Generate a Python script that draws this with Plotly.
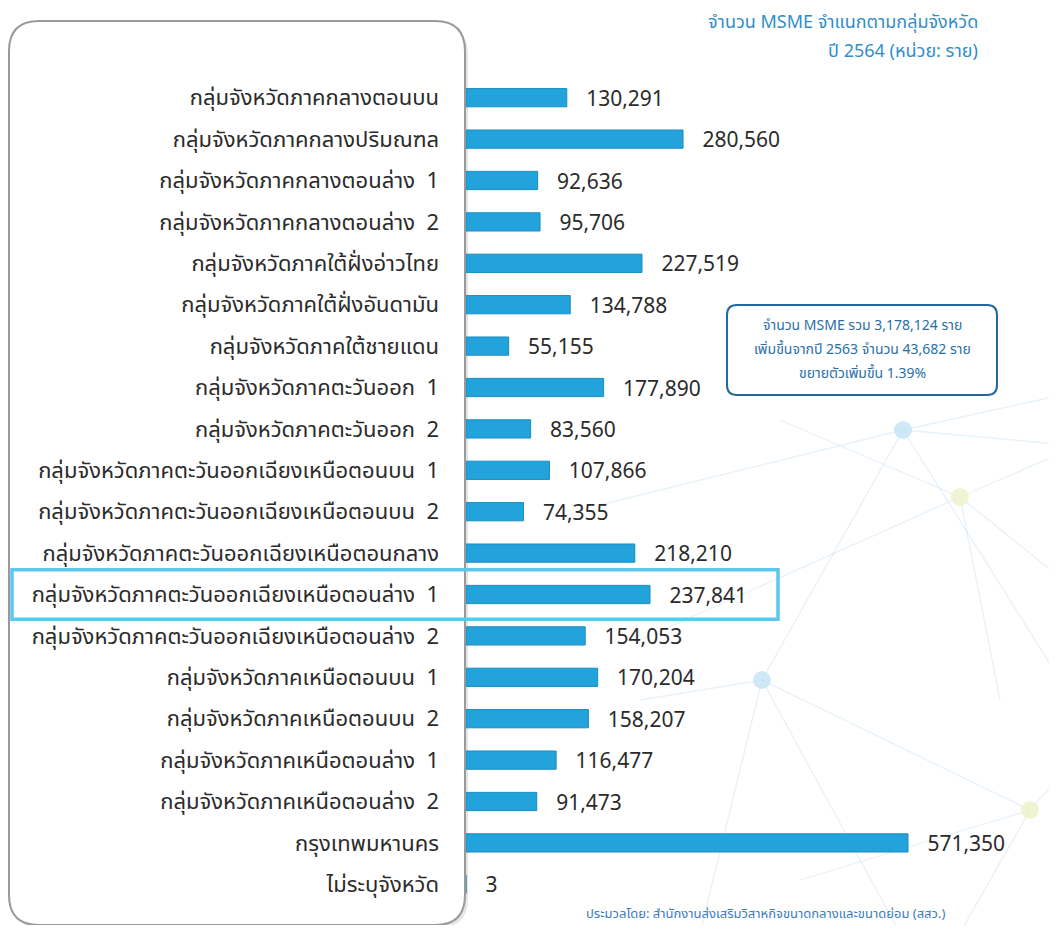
import plotly.graph_objects as go

GROUPS = [
    "กลุ่มจังหวัดภาคกลางตอนบน",
    "กลุ่มจังหวัดภาคกลางปริมณฑล",
    "กลุ่มจังหวัดภาคกลางตอนล่าง  1",
    "กลุ่มจังหวัดภาคกลางตอนล่าง  2",
    "กลุ่มจังหวัดภาคใต้ฝั่งอ่าวไทย",
    "กลุ่มจังหวัดภาคใต้ฝั่งอันดามัน",
    "กลุ่มจังหวัดภาคใต้ชายแดน",
    "กลุ่มจังหวัดภาคตะวันออก  1",
    "กลุ่มจังหวัดภาคตะวันออก  2",
    "กลุ่มจังหวัดภาคตะวันออกเฉียงเหนือตอนบน  1",
    "กลุ่มจังหวัดภาคตะวันออกเฉียงเหนือตอนบน  2",
    "กลุ่มจังหวัดภาคตะวันออกเฉียงเหนือตอนกลาง",
    "กลุ่มจังหวัดภาคตะวันออกเฉียงเหนือตอนล่าง  1",
    "กลุ่มจังหวัดภาคตะวันออกเฉียงเหนือตอนล่าง  2",
    "กลุ่มจังหวัดภาคเหนือตอนบน  1",
    "กลุ่มจังหวัดภาคเหนือตอนบน  2",
    "กลุ่มจังหวัดภาคเหนือตอนล่าง  1",
    "กลุ่มจังหวัดภาคเหนือตอนล่าง  2",
    "กรุงเทพมหานคร",
    "ไม่ระบุจังหวัด",
]
MSME_2564 = [
    130291, 280560, 92636, 95706, 227519, 134788, 55155, 177890, 83560, 107866,
    74355, 218210, 237841, 154053, 170204, 158207, 116477, 91473, 571350, 3,
]
HIGHLIGHT = "กลุ่มจังหวัดภาคตะวันออกเฉียงเหนือตอนล่าง  1"

TITLE_LINES = ["จำนวน MSME จำแนกตามกลุ่มจังหวัด", "ปี 2564 (หน่วย: ราย)"]
INFO_LINES = [
    "จำนวน MSME รวม 3,178,124 ราย",
    "เพิ่มขึ้นจากปี 2563 จำนวน 43,682 ราย",
    "ขยายตัวเพิ่มขึ้น 1.39%",
]
SOURCE = "ประมวลโดย: สำนักงานส่งเสริมวิสาหกิจขนาดกลางและขนาดย่อม (สสว.)"

_FONT = "'Noto Sans Thai', 'Noto Sans', 'DejaVu Sans', sans-serif"
_BAR = "#22a3dc"
_BLUE_TXT = "#2f8fca"

OFF = 8
FIG_W, FIG_H = 1041, 917
M_L, M_R, M_T, M_B = 458, 40, 69, 20
PW, PH = FIG_W - M_L - M_R, FIG_H - M_T - M_B


def px_x(p):
    return (p - OFF - M_L) / PW


def px_y(p):
    return 1 - (p - OFF - M_T) / PH


def rounded_rect(x0, y0, x1, y1, r):
    # pixel box -> svg path in paper units
    pts = [
        f"M {px_x(x0 + r)},{px_y(y0)}",
        f"L {px_x(x1 - r)},{px_y(y0)}",
        f"Q {px_x(x1)},{px_y(y0)} {px_x(x1)},{px_y(y0 + r)}",
        f"L {px_x(x1)},{px_y(y1 - r)}",
        f"Q {px_x(x1)},{px_y(y1)} {px_x(x1 - r)},{px_y(y1)}",
        f"L {px_x(x0 + r)},{px_y(y1)}",
        f"Q {px_x(x0)},{px_y(y1)} {px_x(x0)},{px_y(y1 - r)}",
        f"L {px_x(x0)},{px_y(y0 + r)}",
        f"Q {px_x(x0)},{px_y(y0)} {px_x(x0 + r)},{px_y(y0)} Z",
    ]
    return " ".join(pts)


fig = go.Figure(go.Bar(
    x=MSME_2564,
    y=GROUPS,
    orientation="h",
    marker=dict(color=_BAR, line=dict(color="#1a8cc0", width=1)),
    texttemplate="\u00a0\u00a0\u00a0%{x:,}",
    textposition="outside",
    constraintext="none",
    cliponaxis=False,
    textfont=dict(size=21, color="#2b2b2b", family="'Noto Sans', sans-serif"),
    width=0.44,
))

shapes = []

# faint background network
net_lines = [
    ((903, 430), (1057, 396)), ((903, 430), (1057, 444)), ((903, 430), (762, 680)),
    ((903, 430), (1057, 675)), ((903, 430), (600, 505)), ((960, 497), (1057, 455)),
    ((960, 497), (1057, 575)), ((960, 497), (640, 640)), ((960, 497), (780, 420)),
    ((762, 680), (1030, 810)), ((762, 680), (900, 933)), ((762, 680), (640, 700)),
    ((762, 680), (700, 933)), ((1030, 810), (1057, 780)), ((1030, 810), (960, 933)),
    ((1030, 810), (800, 880)), ((960, 497), (1000, 700)),
]
for (a, b) in net_lines:
    shapes.append(dict(
        type="line", xref="paper", yref="paper", layer="below",
        x0=px_x(a[0]), y0=px_y(a[1]), x1=px_x(b[0]), y1=px_y(b[1]),
        line=dict(color="rgba(170,205,230,0.28)", width=1.3),
    ))
for (cx, cy, col) in [(903, 430, "rgba(195,228,246,0.8)"), (960, 497, "rgba(236,241,200,0.8)"),
                      (762, 680, "rgba(195,228,246,0.8)"), (1030, 810, "rgba(236,241,200,0.8)")]:
    shapes.append(dict(
        type="circle", xref="paper", yref="paper", layer="below",
        x0=px_x(cx - 9), x1=px_x(cx + 9), y0=px_y(cy - 9), y1=px_y(cy + 9),
        fillcolor=col, line=dict(width=0),
    ))

# white rounded panel behind the labels
shapes.append(dict(
    type="path", xref="paper", yref="paper", layer="below",
    path=rounded_rect(12, 25, 468, 928, 30),
    fillcolor="rgba(0,0,0,0.10)", line=dict(width=0),
))
shapes.append(dict(
    type="path", xref="paper", yref="paper", layer="below",
    path=rounded_rect(9, 21, 465, 925, 30),
    fillcolor="white", line=dict(color="#9a9a9a", width=2),
))

# info box
shapes.append(dict(
    type="path", xref="paper", yref="paper",
    path=rounded_rect(727, 305, 997, 395, 10),
    fillcolor="rgba(255,255,255,0.95)", line=dict(color="#23689a", width=2),
))

# highlighted row
hi = GROUPS.index(HIGHLIGHT)
shapes.append(dict(
    type="rect", xref="paper", yref="y",
    x0=px_x(12), x1=px_x(778), y0=hi - 0.6, y1=hi + 0.6,
    line=dict(color="#5cc8f0", width=3.5), fillcolor="rgba(0,0,0,0)",
))

annotations = [
    dict(text=TITLE_LINES[0], xref="paper", yref="paper", x=px_x(980), y=px_y(23),
         xanchor="right", yanchor="middle", showarrow=False,
         font=dict(size=18, color=_BLUE_TXT, family=_FONT)),
    dict(text=TITLE_LINES[1], xref="paper", yref="paper", x=px_x(980), y=px_y(51),
         xanchor="right", yanchor="middle", showarrow=False,
         font=dict(size=18, color=_BLUE_TXT, family=_FONT)),
    dict(text=SOURCE, xref="paper", yref="paper", x=px_x(765), y=px_y(914),
         xanchor="center", yanchor="middle", showarrow=False,
         font=dict(size=13, color="#3a7bbf", family=_FONT)),
]
for i, line in enumerate(INFO_LINES):
    annotations.append(dict(
        text=line, xref="paper", yref="paper", x=px_x(862), y=px_y(325 + 24 * i),
        xanchor="center", yanchor="middle", showarrow=False,
        font=dict(size=14, color="#2a6fa6", family=_FONT),
    ))

fig.update_layout(
    width=FIG_W,
    height=FIG_H,
    template="plotly_white",
    paper_bgcolor="white",
    plot_bgcolor="rgba(0,0,0,0)",
    margin=dict(l=M_L, r=M_R, t=M_T, b=M_B, autoexpand=False),
    showlegend=False,
    font=dict(family=_FONT, size=20, color="#2b2b2b"),
    xaxis=dict(range=[0, 571350 * PW / 442], visible=False, showgrid=False, zeroline=False),
    yaxis=dict(
        autorange="reversed", showgrid=False, zeroline=False, showline=False,
        ticks="", ticklabelstandoff=26,
        tickfont=dict(size=22, color="#2b2b2b", family=_FONT),
    ),
    shapes=shapes,
    annotations=annotations,
)

fig.write_html("out.html")
